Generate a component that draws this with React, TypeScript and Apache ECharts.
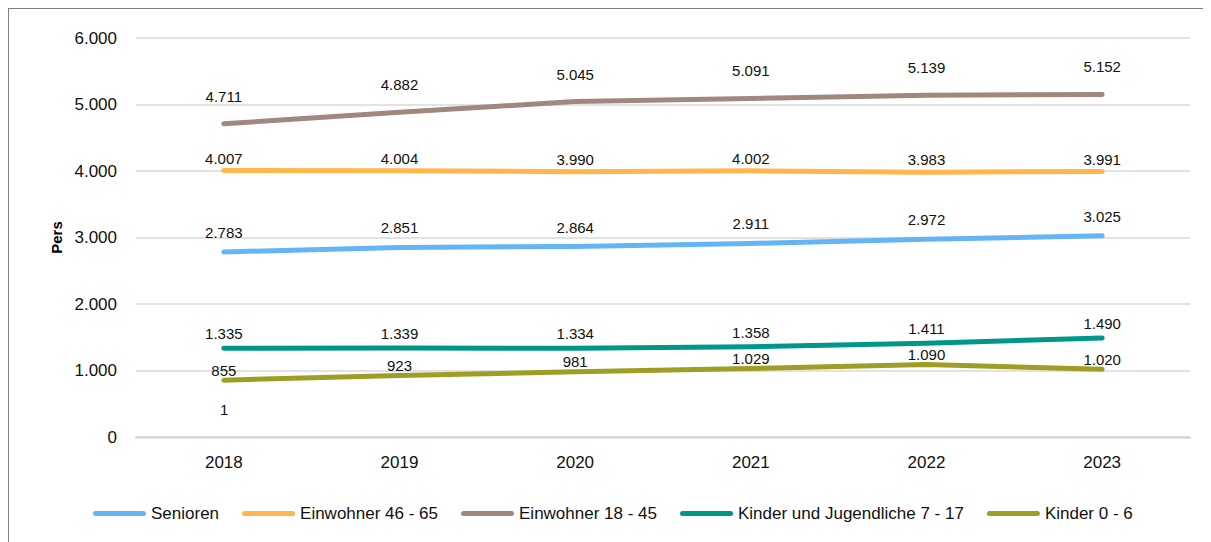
import React, { useEffect, useRef } from "react";
import * as echarts from "echarts";

const years = ["2018", "2019", "2020", "2021", "2022", "2023"];
const senioren = [2783, 2851, 2864, 2911, 2972, 3025];
const einwohner4665 = [4007, 4004, 3990, 4002, 3983, 3991];
const einwohner1845 = [4711, 4882, 5045, 5091, 5139, 5152];
const kinder717 = [1335, 1339, 1334, 1358, 1411, 1490];
const kinder06 = [855, 923, 981, 1029, 1090, 1020];
const yTicks = [0, 1000, 2000, 3000, 4000, 5000, 6000];

const fmt = (v: number) => {
  const s = String(Math.round(v));
  return s.replace(/\B(?=(\d{3})+(?!\d))/g, ".");
};

const FONT = "'Liberation Sans', Arial, sans-serif";
const LEGEND_ICON = "path://M2.5,0 L50.5,0 A2.5,2.5 0 0 1 50.5,5 L2.5,5 A2.5,2.5 0 0 1 2.5,0 Z";

export default function App() {
  const ref = useRef<HTMLDivElement>(null);
  useEffect(() => {
    if (!ref.current) return;
    const chart = echarts.init(ref.current, undefined, { renderer: "svg" });
    const mk = (name: string, data: number[], color: string, dist: number) => ({
      name,
      type: "line",
      data,
      symbol: "circle",
      symbolSize: 0.01,
      showSymbol: true,
      lineStyle: { color, width: 5, cap: "round", join: "round" },
      itemStyle: { color },
      label: {
        show: true,
        position: "top",
        distance: dist,
        formatter: (p: any) => fmt(p.value),
        color: "#111",
        fontSize: 15,
        fontFamily: FONT,
      },
    });
    chart.setOption({
      animation: false,
      textStyle: { fontFamily: FONT },
      grid: { left: 127, right: 21, top: 29, bottom: 105, containLabel: false },
      xAxis: {
        type: "category",
        data: years,
        boundaryGap: true,
        axisLine: { show: true, lineStyle: { color: "#d9d9d9", width: 2.5 } },
        axisTick: { show: false },
        axisLabel: { color: "#111", fontSize: 17, margin: 17, fontFamily: FONT },
      },
      yAxis: {
        type: "value",
        min: yTicks[0],
        max: yTicks[yTicks.length - 1],
        interval: 1000,
        name: "Pers",
        nameLocation: "middle",
        nameRotate: 90,
        nameGap: 72,
        nameTextStyle: { color: "#000", fontSize: 15, fontWeight: "bold", fontFamily: FONT },
        axisLine: { show: false },
        axisTick: { show: false },
        axisLabel: { color: "#111", fontSize: 17, margin: 19, fontFamily: FONT, formatter: (v: number) => fmt(v) },
        splitLine: { lineStyle: { color: "#d9d9d9", width: 1.5 } },
      },
      legend: {
        left: 79,
        top: 491,
        icon: LEGEND_ICON,
        itemWidth: 53,
        itemHeight: 5,
        itemGap: 23,
        textStyle: { color: "#111", fontSize: 17, fontFamily: FONT },
        data: ["Senioren", "Einwohner 46 - 65", "Einwohner 18 - 45", "Kinder und Jugendliche 7 - 17", "Kinder 0 - 6"],
      },
      graphic: [
        {
          type: "text",
          left: 211,
          top: 393,
          style: { text: "1", fontSize: 15, fill: "#111", fontFamily: FONT },
        },
      ],
      series: [
        mk("Senioren", senioren, "#64B5F6", 12),
        mk("Einwohner 46 - 65", einwohner4665, "#FFB74D", 5),
        mk("Einwohner 18 - 45", einwohner1845, "#A1887F", 20),
        mk("Kinder und Jugendliche 7 - 17", kinder717, "#009688", 7),
        mk("Kinder 0 - 6", kinder06, "#9E9D24", 2.5),
      ],
    });
    return () => chart.dispose();
  }, []);
  return (
    <div
      style={{
        width: 1203,
        height: 534,
        borderTop: "1px solid #7f7f7f",
        borderLeft: "1px solid #7f7f7f",
        boxSizing: "border-box",
        background: "#fff",
      }}
    >
      <div ref={ref} style={{ width: 1202, height: 533 }} />
    </div>
  );
}
